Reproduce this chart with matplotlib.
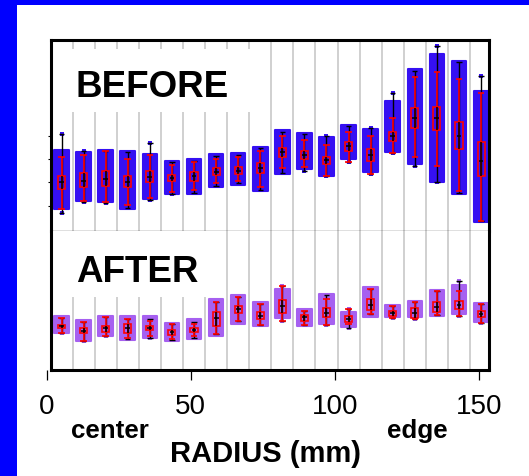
import matplotlib
matplotlib.use('Agg')
import matplotlib.pyplot as plt
import numpy as np
from matplotlib.patches import Rectangle

plt.rcParams['font.family'] = ['Liberation Sans', 'DejaVu Sans']

W, H = 529, 477

# ---- BEFORE: per radial bin (centre -> edge), arbitrary thickness units ----
b_cloud_top = [4.04, 3.93, 4.04, 3.98, 3.83, 3.48, 3.58, 3.83, 3.88, 4.18,
               5.03, 4.88, 4.68, 5.28, 5.08, 6.49, 8.08, 8.83, 8.48, 6.99]
b_cloud_bot = [1.08, 1.49, 1.41, 1.08, 1.58, 1.83, 1.83, 2.16, 2.29, 1.99,
               2.83, 3.08, 2.74, 3.58, 2.91, 3.91, 3.33, 2.41, 1.83, 0.44]
b_max = [4.83, 3.99, 3.98, 3.91, 4.38, 3.41, 3.49, 3.74, 3.79, 4.11,
         4.91, 4.83, 4.71, 5.21, 5.11, 6.86, 7.99, 9.24, 8.41, 7.74]
b_hi = [3.69, 3.79, 3.96, 3.58, 3.78, 3.29, 3.41, 3.58, 3.66, 3.96,
        4.71, 4.54, 4.28, 4.94, 4.74, 5.61, 7.66, 7.94, 7.58, 6.88]
b_q3 = [2.74, 2.86, 2.96, 2.71, 2.96, 2.78, 2.91, 3.11, 3.16, 3.38,
        4.11, 3.96, 3.69, 4.44, 4.08, 4.91, 6.13, 6.19, 5.44, 4.41]
b_med = [2.44, 2.49, 2.58, 2.44, 2.66, 2.61, 2.71, 2.94, 2.99, 3.13,
         3.91, 3.78, 3.54, 4.21, 3.78, 4.71, 5.61, 5.61, 4.74, 3.49]
b_q1 = [2.08, 2.19, 2.24, 2.16, 2.41, 2.46, 2.49, 2.78, 2.83, 2.88,
        3.66, 3.58, 3.33, 3.99, 3.49, 4.46, 5.11, 5.03, 4.08, 2.74]
b_lo = [1.08, 1.49, 1.41, 1.29, 1.61, 1.94, 2.04, 2.36, 2.49, 2.16,
        3.11, 3.16, 2.74, 3.41, 2.83, 3.88, 3.66, 3.24, 1.99, 0.49]
b_min = [0.88, 1.45, 1.38, 1.11, 1.54, 1.83, 1.86, 2.24, 2.36, 2.04,
         2.88, 2.96, 2.74, 3.41, 2.83, 3.88, 3.21, 2.41, 1.88, 0.49]

# ---- AFTER ----
a_cloud_top = [2.72, 2.52, 2.72, 2.69, 2.69, 2.34, 2.55, 3.55, 3.77, 3.39,
               4.05, 3.05, 3.80, 2.89, 4.14, 3.27, 3.47, 4.00, 4.25, 3.34]
a_cloud_bot = [1.84, 1.47, 1.69, 1.50, 1.59, 1.47, 1.55, 1.72, 2.30, 2.22,
               2.60, 2.22, 2.30, 2.14, 2.64, 2.64, 2.64, 2.72, 2.80, 2.39]
a_max = [2.59, 2.39, 2.64, 2.55, 2.55, 2.30, 2.42, 3.39, 3.64, 3.30,
         4.19, 2.94, 3.77, 3.05, 4.05, 3.19, 3.39, 3.94, 4.47, 3.30]
a_hi = [2.59, 2.39, 2.64, 2.55, 2.47, 2.30, 2.30, 3.39, 3.64, 3.30,
        4.19, 2.94, 3.55, 3.05, 4.05, 3.19, 3.39, 3.94, 3.97, 3.30]
a_q3 = [2.27, 2.09, 2.22, 2.30, 2.22, 2.00, 2.10, 2.92, 3.22, 2.89,
        3.52, 2.77, 3.10, 2.69, 3.55, 2.97, 3.10, 3.39, 3.44, 2.97]
a_med = [2.19, 1.97, 2.09, 2.10, 2.12, 1.89, 2.00, 2.60, 3.05, 2.72,
         3.22, 2.64, 2.85, 2.55, 3.25, 2.85, 2.85, 3.14, 3.25, 2.80]
a_q1 = [2.09, 1.84, 1.92, 1.84, 2.00, 1.77, 1.89, 2.22, 2.84, 2.55,
        2.85, 2.47, 2.67, 2.42, 3.02, 2.72, 2.62, 2.92, 3.05, 2.67]
a_lo = [1.84, 1.47, 1.69, 1.59, 1.72, 1.55, 1.69, 1.80, 2.47, 2.27,
        2.47, 2.25, 2.25, 2.30, 2.80, 2.59, 2.55, 2.75, 2.72, 2.34]
a_min = [1.84, 1.47, 1.69, 1.55, 1.60, 1.52, 1.59, 1.80, 2.47, 2.27,
         2.47, 2.25, 2.25, 2.09, 2.80, 2.59, 2.55, 2.75, 2.72, 2.34]

radius_ticks = [0, 50, 100, 150]


def fx(px):
    return px / W


def fy(py):
    return 1 - py / H


def draw_panel(ax, top, bot, vmax, hi, q3, med, q1, lo, vmin, cloud):
    x = np.arange(len(med))
    for g in x[:-1] + 0.5:
        ax.axvline(g, color='#c8c8c8', lw=1.2, zorder=1)
    bars = ax.bar(x, np.subtract(top, bot), bottom=bot, width=0.66,
                  color=cloud, edgecolor=cloud, lw=1.5, zorder=2)
    for b in bars:
        b.set_joinstyle('round')
    ax.plot(x, vmax, 's', color=cloud, ms=3.5, mew=0, zorder=2)
    ax.plot(x, vmin, 's', color=cloud, ms=3.5, mew=0, zorder=2)
    ax.vlines(x, vmin, vmax, color='black', lw=1, zorder=3)
    ax.hlines(vmax, x - 0.12, x + 0.12, color='black', lw=1, zorder=3)
    ax.hlines(vmin, x - 0.12, x + 0.12, color='black', lw=1, zorder=3)
    ax.vlines(x, lo, hi, color='red', lw=1.2, zorder=4)
    ax.hlines(hi, x - 0.15, x + 0.15, color='red', lw=1.2, zorder=4)
    ax.hlines(lo, x - 0.15, x + 0.15, color='red', lw=1.2, zorder=4)
    ax.bar(x, np.subtract(q3, q1), bottom=q1, width=0.32, fill=False,
           edgecolor='red', lw=1.2, zorder=5)
    ax.vlines(x, q1, q3, color='black', lw=1.1, zorder=6)
    ax.hlines(med, x - 0.11, x + 0.11, color='black', lw=1.1, zorder=6)
    ax.set_xlim(-0.5, 19.36)
    ax.set_xticks([])


fig = plt.figure(figsize=(W / 100, H / 100), dpi=100, facecolor='#0000ff')
fig.patches.append(Rectangle((fx(17), 0), 1, fy(6), transform=fig.transFigure,
                             facecolor='white', edgecolor='none', zorder=-1))

left, right, top_px, mid_px, bot_px = 50.5, 489, 41, 231.5, 371
ax1 = fig.add_axes([fx(left), fy(mid_px), fx(right - left), (mid_px - top_px) / H])
ax2 = fig.add_axes([fx(left), fy(bot_px), fx(right - left), (bot_px - mid_px) / H])

draw_panel(ax1, b_cloud_top, b_cloud_bot, b_max, b_hi, b_q3, b_med, b_q1,
           b_lo, b_min, '#3510f2')
draw_panel(ax2, a_cloud_top, a_cloud_bot, a_max, a_hi, a_q3, a_med, a_q1,
           a_lo, a_min, '#a660f0')

ax1.set_ylim(0, (mid_px - top_px) / 20)
ax2.set_ylim(0, (bot_px - mid_px) / 20)
ax1.set_yticks([1.24, 2.41, 3.58, 4.74])
ax1.set_yticklabels([])
ax1.tick_params(axis='y', length=2, width=0.8, direction='out')
ax2.set_yticks([])

for s in ['top', 'left', 'right']:
    ax1.spines[s].set_linewidth(2.2)
ax1.spines['bottom'].set_linewidth(0.9)
ax2.spines['top'].set_visible(False)
for s in ['bottom', 'left', 'right']:
    ax2.spines[s].set_linewidth(2.2)

# white label boxes covering the grid lines
ax1.add_patch(Rectangle((fx(left), fy(113)), fx(260 - left), (113 - 50) / H,
                        transform=fig.transFigure, facecolor='white',
                        edgecolor='none', zorder=1.5))
ax2.add_patch(Rectangle((fx(left), fy(298)), fx(221 - left), (298 - mid_px) / H,
                        transform=fig.transFigure, facecolor='white',
                        edgecolor='none', zorder=1.5))
ax1.text(fx(76), fy(96.7), 'BEFORE', transform=fig.transFigure, fontsize=26.5,
         fontweight='bold', ha='left', va='baseline', zorder=7)
ax2.text(fx(76.5), fy(281.7), 'AFTER', transform=fig.transFigure, fontsize=26.5,
         fontweight='bold', ha='left', va='baseline', zorder=7)

# radius axis
ax3 = fig.add_axes([fx(46.7), fy(bot_px), fx(479 - 46.7), 0.0001])
ax3.patch.set_visible(False)
for s in ax3.spines.values():
    s.set_visible(False)
ax3.set_xlim(0, 150)
ax3.set_yticks([])
ax3.set_xticks(radius_ticks)
ax3.tick_params(axis='x', length=7.5, width=0.9, pad=9, labelsize=20)

fig.text(fx(110), fy(438), 'center', fontsize=18.7, fontweight='bold',
         ha='center', va='baseline')
fig.text(fx(417), fy(438.3), 'edge', fontsize=18.7, fontweight='bold',
         ha='center', va='baseline')
fig.text(fx(266), fy(461.7), 'RADIUS (mm)', fontsize=21, fontweight='bold',
         ha='center', va='baseline')

fig.savefig('out.png', dpi=100, facecolor=fig.get_facecolor())
